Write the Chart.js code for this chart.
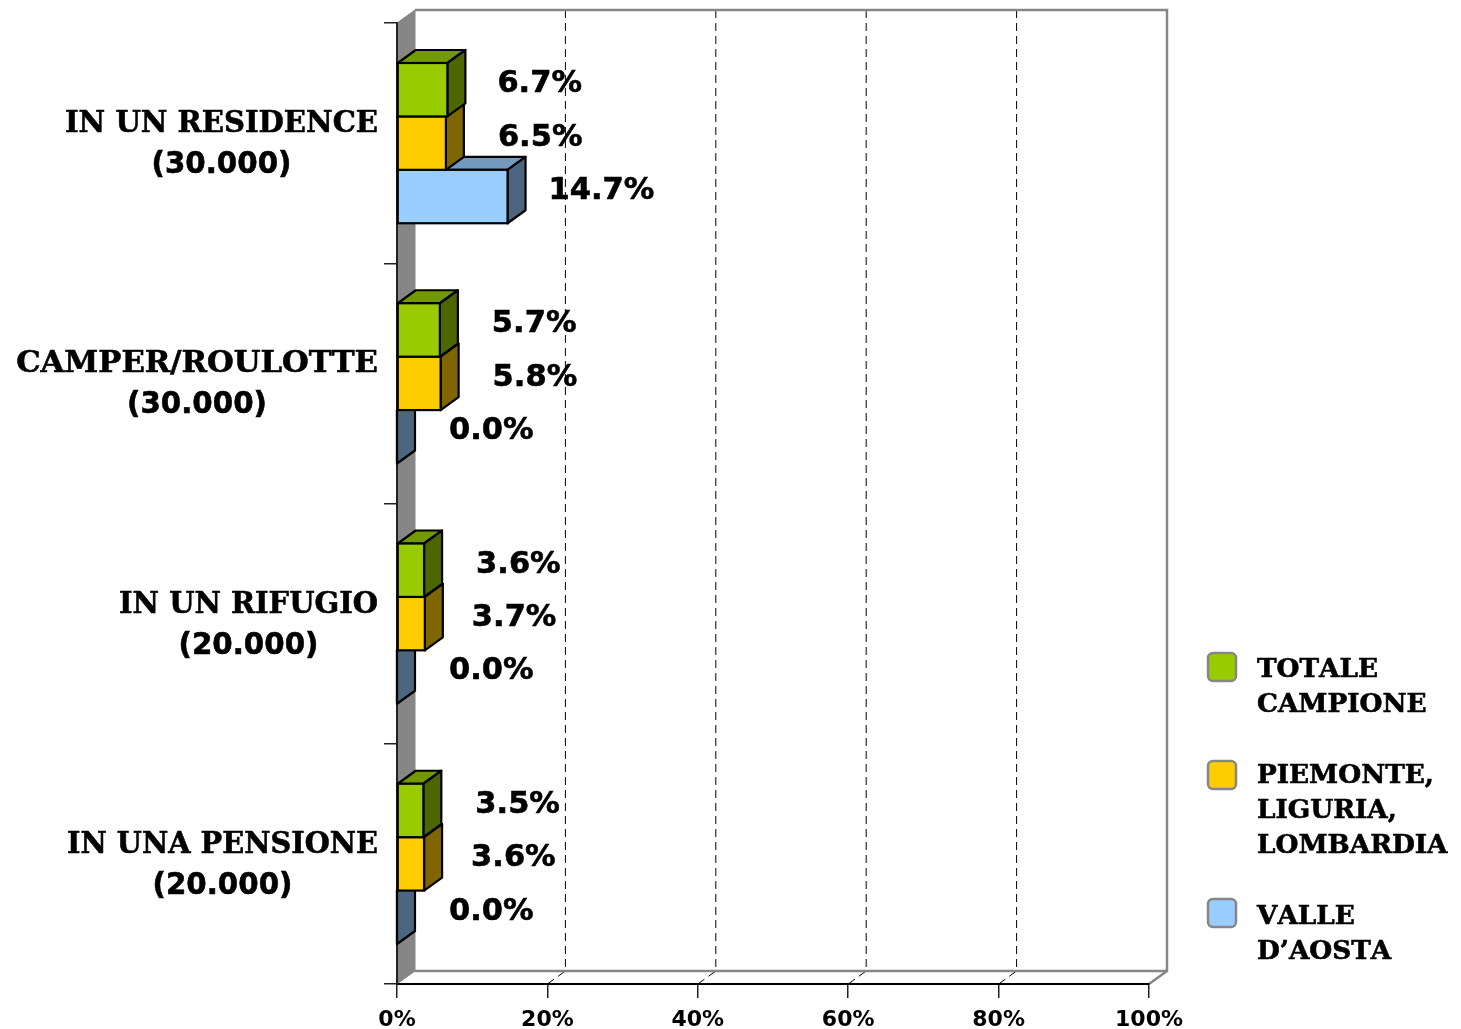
<!DOCTYPE html>
<html>
<head>
<meta charset="utf-8">
<style>
  html, body { margin: 0; padding: 0; background: #fff; }
  canvas { display: block; }
</style>
</head>
<body>
<canvas id="grafico" width="1461" height="1029"></canvas>
<script src="https://cdn.jsdelivr.net/npm/chart.js"></script>
<script>
const categories = ['IN UN RESIDENCE', 'CAMPER/ROULOTTE', 'IN UN RIFUGIO', 'IN UNA PENSIONE'];
const counts = ['(30.000)', '(30.000)', '(20.000)', '(20.000)'];
const totaleCampione = [6.7, 5.7, 3.6, 3.5];
const piemonteLiguriaLombardia = [6.5, 5.8, 3.7, 3.6];
const valleAosta = [14.7, 0.0, 0.0, 0.0];
const seriesNames = [['TOTALE', 'CAMPIONE'], ['PIEMONTE,', 'LIGURIA,', 'LOMBARDIA'], ['VALLE', 'D\u2019AOSTA']];

const SERIF = '"DejaVu Serif", serif';
const SANS = '"DejaVu Sans", sans-serif';
const DX = 18, DY = -13; // profondita' 3D
const WALL = '#868686';

// colori fronte / lato / sopra
const colors = [
  { front: '#99CC00', side: '#4D6600', top: '#739900' },
  { front: '#FFCC00', side: '#806600', top: '#BF9900' },
  { front: '#99CCFF', side: '#4D6680', top: '#7399BF' }
];
// distanza etichetta dalla fine della barra
const labelGap = [[50, 52, 52, 52], [52, 52, 47, 47], [41, 52, 52, 52]];
// larghezza delle etichette categoria
const nameWidth = [313, 362, 259, 311];

function poly(ctx, pts, fill) {
  ctx.beginPath();
  pts.forEach((p, i) => i ? ctx.lineTo(p[0], p[1]) : ctx.moveTo(p[0], p[1]));
  ctx.closePath();
  ctx.fillStyle = fill;
  ctx.fill();
  ctx.stroke();
}

// testo piu' pesante, come nell'originale
function heavyText(ctx, s, x, y, maxW) {
  ctx.lineWidth = 0.6;
  ctx.strokeStyle = '#000';
  ctx.strokeText(s, x, y, maxW);
  ctx.fillText(s, x, y, maxW);
}

const grafico3d = {
  id: 'grafico3d',
  // pareti e griglia tratteggiata dietro a tutto
  beforeDraw(chart) {
    const { ctx, chartArea: a, scales } = chart;
    ctx.save();
    ctx.strokeStyle = WALL;
    ctx.lineWidth = 1;
    poly(ctx, [[a.left, a.top], [a.left + DX, a.top + DY], [a.left + DX, a.bottom + DY], [a.left, a.bottom]], WALL);

    ctx.strokeStyle = '#000';
    ctx.setLineDash([8, 5]);
    [20, 40, 60, 80].forEach(v => {
      const x = scales.x.getPixelForValue(v);
      ctx.beginPath();
      ctx.moveTo(x + DX, a.top + DY);
      ctx.lineTo(x + DX, a.bottom + DY);
      ctx.lineTo(x, a.bottom);
      ctx.stroke();
    });
    ctx.setLineDash([]);

    ctx.strokeStyle = WALL;
    ctx.lineWidth = 2.5;
    ctx.beginPath();
    ctx.moveTo(a.left + DX, a.bottom + DY);
    ctx.lineTo(a.right + DX, a.bottom + DY);
    ctx.lineTo(a.right + DX, a.top + DY);
    ctx.lineTo(a.left + DX, a.top + DY);
    ctx.moveTo(a.right + DX, a.bottom + DY);
    ctx.lineTo(a.right, a.bottom);
    ctx.stroke();
    ctx.restore();
  },
  // lato e sopra delle barre
  beforeDatasetDraw(chart, args) {
    const { ctx } = chart;
    const c = colors[args.index];
    ctx.save();
    ctx.strokeStyle = '#000';
    ctx.lineWidth = 2.2;
    ctx.lineJoin = 'round';
    args.meta.data.forEach(b => {
      const t = b.y - b.height / 2, m = b.y + b.height / 2;
      poly(ctx, [[b.base, t], [b.base + DX, t + DY], [b.x + DX, t + DY], [b.x, t]], c.top);
      poly(ctx, [[b.x, t], [b.x + DX, t + DY], [b.x + DX, m + DY], [b.x, m]], c.side);
    });
    ctx.restore();
  },
  // bordo del fronte
  afterDatasetDraw(chart, args) {
    const { ctx } = chart;
    ctx.save();
    ctx.strokeStyle = '#000';
    ctx.lineWidth = 2.2;
    args.meta.data.forEach(b => {
      ctx.strokeRect(b.base, b.y - b.height / 2, b.x - b.base, b.height);
    });
    ctx.restore();
  },
  afterDraw(chart) {
    const { ctx, scales } = chart;
    ctx.save();
    ctx.fillStyle = '#000';
    ctx.textBaseline = 'middle';

    // etichette valori
    ctx.textAlign = 'left';
    ctx.font = 'bold 30.5px ' + SANS;
    chart.data.datasets.forEach((ds, i) => {
      chart.getDatasetMeta(i).data.forEach((b, j) => {
        heavyText(ctx, ds.data[j].toFixed(1) + '%', b.x + labelGap[i][j], b.y - 5.5);
      });
    });

    // categorie su due righe centrate
    ctx.textAlign = 'center';
    categories.forEach((name, i) => {
      const y = scales.y.getPixelForValue(i);
      const cx = 378 - nameWidth[i] / 2;
      ctx.fontKerning = 'none';
      ctx.font = 'bold 30.7px ' + SERIF;
      heavyText(ctx, name, cx, y - 19, nameWidth[i]);
      ctx.fontKerning = 'auto';
      ctx.font = 'bold 29.3px ' + SANS;
      heavyText(ctx, counts[i], cx, y + 22.5);
    });

    // legenda
    const boxY = [653, 761, 899];
    const textY = [670, 776, 917];
    seriesNames.forEach((lines, i) => {
      ctx.beginPath();
      ctx.roundRect(1208, boxY[i], 28, 28, 5);
      ctx.fillStyle = colors[i].front;
      ctx.fill();
      ctx.strokeStyle = WALL;
      ctx.lineWidth = 2.5;
      ctx.stroke();
      ctx.fillStyle = '#000';
      ctx.textAlign = 'left';
      ctx.fontKerning = 'none';
      ctx.font = 'bold 26.3px ' + SERIF;
      lines.forEach((l, k) => heavyText(ctx, l, 1257, textY[i] + k * 35.2));
    });
    ctx.restore();
  }
};

new Chart(document.getElementById('grafico'), {
  type: 'bar',
  data: {
    labels: categories,
    datasets: [
      { label: seriesNames[0].join(' '), data: totaleCampione, backgroundColor: colors[0].front },
      { label: seriesNames[1].join(' '), data: piemonteLiguriaLombardia, backgroundColor: colors[1].front },
      { label: seriesNames[2].join(' '), data: valleAosta, backgroundColor: colors[2].front }
    ]
  },
  options: {
    indexAxis: 'y',
    responsive: false,
    animation: false,
    layout: { padding: { left: 0, right: 312, top: 23, bottom: 0 } },
    categoryPercentage: 0.667,
    barPercentage: 1,
    borderWidth: 0,
    plugins: { legend: { display: false }, title: { display: false }, tooltip: { enabled: false } },
    scales: {
      x: {
        min: 0,
        max: 100,
        afterFit(s) { s.height = 45; s.paddingLeft = 0; s.paddingRight = 0; },
        border: { color: '#000', width: 2 },
        grid: { drawOnChartArea: false, color: '#222', tickLength: 14, lineWidth: 1.5 },
        ticks: {
          stepSize: 20,
          maxRotation: 0,
          padding: 9,
          color: '#000',
          font: { family: SANS, weight: 'bold', size: 22 },
          callback: v => v + '%'
        }
      },
      y: {
        afterFit(s) { s.width = 397; s.paddingTop = 0; s.paddingBottom = 0; },
        border: { color: '#222', width: 2 },
        grid: { drawOnChartArea: false, color: '#222', tickLength: 13, lineWidth: 1.5 },
        ticks: { display: false }
      }
    }
  },
  plugins: [grafico3d]
});
</script>
</body>
</html>
